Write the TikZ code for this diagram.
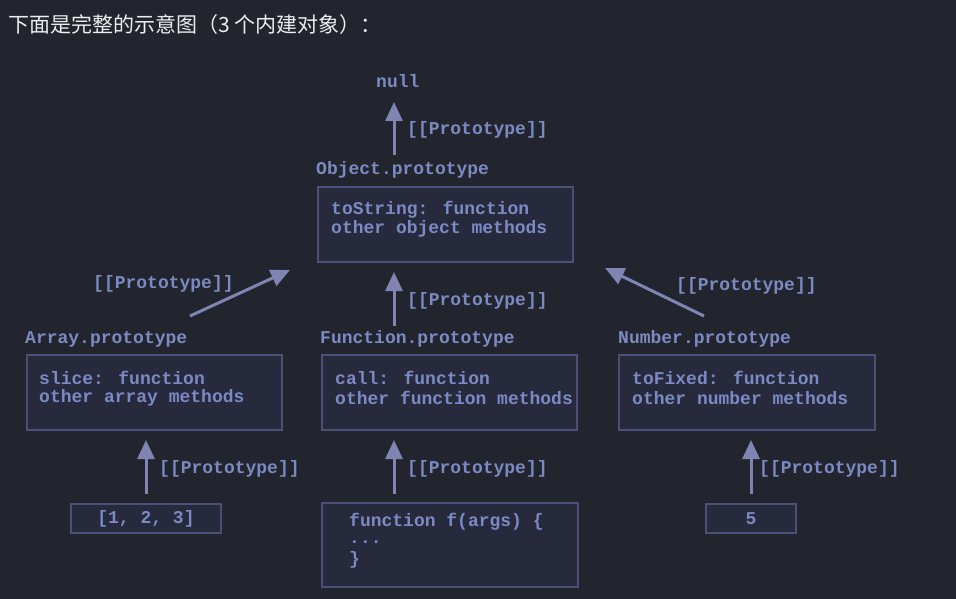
\documentclass[tikz,border=0pt]{standalone}
\usepackage{fontspec}
\setmainfont{Liberation Sans}
\newfontfamily\cjk{Noto Sans CJK SC}
\newfontfamily\codefont{Liberation Mono}
\usetikzlibrary{arrows.meta}
\definecolor{bg}{HTML}{22252D}
\definecolor{txt}{HTML}{7C8AC4}
\definecolor{boxline}{HTML}{4C5078}
\definecolor{boxfill}{HTML}{262A3C}
\definecolor{arrowc}{HTML}{7F84B3}
\definecolor{title}{HTML}{EDEDED}
\begin{document}
\begin{tikzpicture}[x=1pt,y=-1pt,
  code/.style={font=\codefont\bfseries\fontsize{18}{20}\selectfont, text=txt, inner sep=0pt},
  box/.style={draw=boxline, fill=boxfill, line width=2pt, inner sep=0pt},
  arr/.style={draw=arrowc, line width=3pt, -{Triangle[width=17pt,length=19pt]}}]
\fill[bg] (0,0) rectangle (956,599);
\useasboundingbox (0,0) rectangle (956,599);
\node[anchor=west, inner sep=0pt, text=title, font=\cjk\fontsize{21}{24}\selectfont] (ttl) at (8,25) {下面是完整的示意图（3 个内建对象）：};

% null and Object.prototype
\node[code, anchor=west] (null) at (376,81) {null};
\node[code, anchor=west] (objlab) at (316,170) {Object.prototype};
\node[box, anchor=north west, minimum width=255, minimum height=75] (objbox) at (317,186) {};
\node[code, anchor=west] (obj1) at (331,210) {toString: function};
\node[code, anchor=west] (obj2) at (331,229) {other object methods};
\coordinate (nullin) at (394,102);
\coordinate (objout) at (394,155);
\draw[arr] (objout) -- (nullin);
\node[code, anchor=west] (lab0) at (407,130) {[[Prototype]]};

% second row
\node[code, anchor=west] (arrlab) at (25,339) {Array.prototype};
\node[box, anchor=north west, minimum width=255, minimum height=75] (arrbox) at (26,354) {};
\node[code, anchor=west] (arr1) at (39,378) {slice: function};
\node[code, anchor=west] (arr2) at (39,398) {other array methods};

\node[code, anchor=west] (funlab) at (320,339) {Function.prototype};
\node[box, anchor=north west, minimum width=255, minimum height=75] (funbox) at (321,354) {};
\node[code, anchor=west] (fun1) at (335,378) {call: function};
\node[code, anchor=west] (fun2) at (335,398) {other function methods};

\node[code, anchor=west] (numlab) at (618,339) {Number.prototype};
\node[box, anchor=north west, minimum width=256, minimum height=75] (numbox) at (618,354) {};
\node[code, anchor=west] (num1) at (632,378) {toFixed: function};
\node[code, anchor=west] (num2) at (632,398) {other number methods};

% arrows to Object.prototype
\coordinate (arrout) at (190,316);
\coordinate (arrin) at (290,270);
\draw[arr] (arrout) -- (arrin);
\node[code, anchor=west] (lab1) at (93,284) {[[Prototype]]};

\coordinate (funout) at (394,326);
\coordinate (funin) at (394,272);
\draw[arr] (funout) -- (funin);
\node[code, anchor=west] (lab2) at (407,301) {[[Prototype]]};

\coordinate (numout) at (704,316);
\coordinate (numin) at (605,268);
\draw[arr] (numout) -- (numin);
\node[code, anchor=west] (lab3) at (676,286) {[[Prototype]]};

% bottom row
\node[box, anchor=north west, minimum width=150, minimum height=29] (arrinst) at (70,503) {};
\node[code] (arrtxt) at (arrinst.center) {[1, 2, 3]};

\node[box, anchor=north west, minimum width=256, minimum height=84] (funinst) at (321,502) {};
\node[code, anchor=west] (f1) at (349,522) {function f(args) \{};
\node[code, anchor=west] (f2) at (349,542) {...};
\node[code, anchor=west] (f3) at (349,560) {\}};

\node[box, anchor=north west, minimum width=90, minimum height=29] (numinst) at (705,503) {};
\node[code] (numtxt) at (numinst.center) {5};

\coordinate (arrinstout) at (146,494);
\coordinate (arrboxin) at (146,440);
\draw[arr] (arrinstout) -- (arrboxin);
\node[code, anchor=west] (lab4) at (159,469) {[[Prototype]]};
\coordinate (funinstout) at (394,494);
\coordinate (funboxin) at (394,440);
\draw[arr] (funinstout) -- (funboxin);
\node[code, anchor=west] (lab5) at (407,469) {[[Prototype]]};
\coordinate (numinstout) at (751,494);
\coordinate (numboxin) at (751,440);
\draw[arr] (numinstout) -- (numboxin);
\node[code, anchor=west] (lab6) at (759,469) {[[Prototype]]};
\end{tikzpicture}
\end{document}
